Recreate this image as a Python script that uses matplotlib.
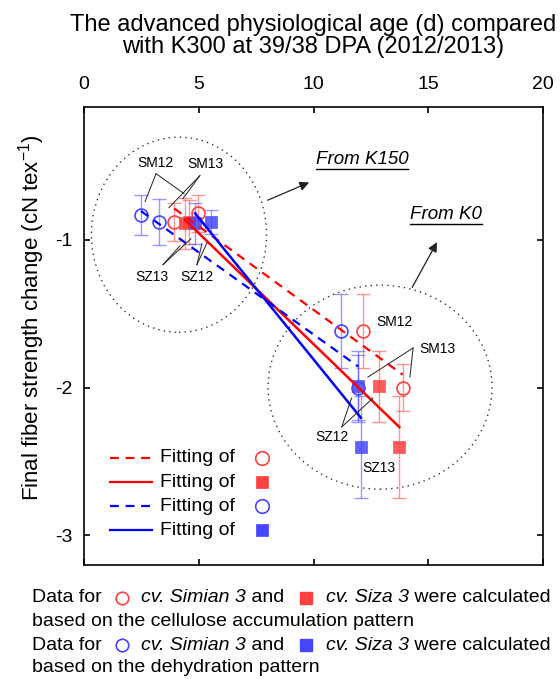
import numpy as np
import matplotlib
matplotlib.use("Agg")
import matplotlib.pyplot as plt
from matplotlib.lines import Line2D
from matplotlib.patches import Ellipse

plt.rcParams['font.family'] = ['Liberation Sans', 'DejaVu Sans']
plt.rcParams['mathtext.fontset'] = 'custom'
plt.rcParams['mathtext.rm'] = 'Liberation Sans'
plt.rcParams['axes.unicode_minus'] = False

# data
red_circle_x = [3.93, 4.95, 12.14, 13.89]
red_circle_y = [-0.88, -0.82, -1.62, -2.00]
red_circle_err = [0.13, 0.125, 0.25, 0.16]

red_square_x = [4.40, 4.57, 12.87, 13.74]
red_square_y = [-0.89, -0.88, -1.99, -2.40]
red_square_err = [0.17, 0.15, 0.24, 0.345]

blue_circle_x = [2.48, 3.27, 11.20, 11.95]
blue_circle_y = [-0.83, -0.88, -1.62, -2.00]
blue_circle_err = [0.136, 0.158, 0.25, 0.22]

blue_square_x = [4.84, 5.53, 11.95, 12.06]
blue_square_y = [-0.89, -0.88, -1.99, -2.40]
blue_square_err = [0.14, 0.08, 0.24, 0.345]

x_ticks = [0, 5, 10, 15, 20]
y_ticks = [-1, -2, -3]

RED = '#ff0000'
BLUE = '#0000ff'
RED_M = '#ff4040'
BLUE_M = '#4646ff'
MS_C = 9.3
MS_S = 9.0

W, H = 560, 679
fig = plt.figure(figsize=(W / 100, H / 100), dpi=100)
ax = fig.add_axes([84 / W, 1 - 565 / H, 459 / W, 458.3 / H])

groups = [
    (red_circle_x, red_circle_y, red_circle_err, RED, RED_M, 'o', '--'),
    (red_square_x, red_square_y, red_square_err, RED, RED_M, 's', '-'),
    (blue_circle_x, blue_circle_y, blue_circle_err, BLUE, BLUE_M, 'o', '--'),
    (blue_square_x, blue_square_y, blue_square_err, BLUE, BLUE_M, 's', '-'),
]

for gx, gy, ge, lc, mc, mk, ls in groups:
    ax.errorbar(gx, gy, yerr=ge, fmt='none', ecolor=mc, alpha=0.55,
                elinewidth=1.0, capsize=5, capthick=1.0, zorder=2)
    if mk == 'o':
        ax.plot(gx, gy, 'o', ms=MS_C, mfc='none', mec=mc, mew=1.2, zorder=3)
    else:
        ax.plot(gx, gy, 's', ms=MS_S, mfc=mc, mec=mc, mew=0.5, alpha=0.85, zorder=3)
    k, b = np.polyfit(gx, gy, 1)
    xs = np.array([min(gx), max(gx)])
    if ls == '--':
        ax.plot(xs, k * xs + b, color=lc, lw=1.6, dashes=(4, 3), zorder=4)
    else:
        ax.plot(xs, k * xs + b, color=lc, lw=1.8, zorder=4)

# dotted ellipses
ax.add_patch(Ellipse((4.14, -0.966), 7.63, 1.32, fill=False, ls=(0, (1, 3)),
                     lw=1.0, ec='#333333'))
ax.add_patch(Ellipse((12.9, -1.997), 9.76, 1.38, fill=False, ls=(0, (1, 3)),
                     lw=1.0, ec='#333333'))

# arrows
ax.annotate('', xy=(9.92, -0.605), xytext=(7.89, -0.74),
            arrowprops=dict(arrowstyle='-|>', color='#222222', lw=0.9,
                            mutation_scale=14))
ax.annotate('', xy=(15.44, -1.0), xytext=(14.24, -1.339),
            arrowprops=dict(arrowstyle='-|>', color='#222222', lw=0.9,
                            mutation_scale=14))

# point labels
labels = [
    ('SM12', 3.12, -0.478, (3.14, -0.553), [(2.66, -0.742), (4.36, -0.688)]),
    ('SM13', 5.27, -0.49, (5.05, -0.566), [(3.70, -0.783), (4.31, -0.722)]),
    ('SZ13', 2.96, -1.25, (3.44, -1.169), [(4.66, -0.993), (4.18, -1.041)]),
    ('SZ12', 4.92, -1.25, (4.92, -1.169), [(5.14, -1.027), (5.36, -1.02)]),
    ('SM12', 13.51, -1.556, None, []),
    ('SM13', 15.38, -1.739, (14.34, -1.732), [(12.37, -1.929), (14.20, -1.929)]),
    ('SZ12', 10.81, -2.336, (11.23, -2.266), [(11.66, -2.071), (12.59, -2.071)]),
    ('SZ13', 12.85, -2.546, None, []),
]
for txt, tx, ty, vtx, ends in labels:
    ax.text(tx, ty, txt, fontsize=10, ha='center', va='center', zorder=5)
    for ex, ey in ends:
        ax.plot([vtx[0], ex], [vtx[1], ey], color='#222222', lw=0.7, zorder=5)

# legend drawn by hand
legend_rows = [
    (RED, '--', 'o', 'none', RED_M),
    (RED, '-', 's', RED_M, RED_M),
    (BLUE, '--', 'o', 'none', BLUE_M),
    (BLUE, '-', 's', BLUE_M, BLUE_M),
]
for i, (lc, ls, mk, mfc, mec) in enumerate(legend_rows):
    yy = 0.2335 - i * 0.0524
    if ls == '--':
        ax.plot([0.0566, 0.148], [yy, yy], transform=ax.transAxes, color=lc,
                lw=1.6, dashes=(4, 3))
    else:
        ax.plot([0.0566, 0.148], [yy, yy], transform=ax.transAxes, color=lc, lw=1.6)
    ax.text(0.1656, yy, 'Fitting of', transform=ax.transAxes, fontsize=14,
            va='center', ha='left')
    ax.plot([0.388], [yy], mk, transform=ax.transAxes,
            ms=MS_C + 0.5 if mk == 'o' else MS_S - 0.5,
            mfc=mfc, mec=mec, mew=1.2 if mk == 'o' else 0.5)

ax.set_xlim(0, 20)
ax.set_ylim(-3.2, -0.1)
ax.set_xticks(x_ticks)
ax.set_yticks(y_ticks)
ax.xaxis.tick_top()
ax.tick_params(direction='in', top=True, bottom=True, left=True, right=True,
               labeltop=True, labelbottom=False, length=4.5, width=1.2,
               labelsize=14)
ax.tick_params(axis='x', pad=10)
ax.tick_params(axis='y', pad=8)
for sp in ax.spines.values():
    sp.set_linewidth(1.2)
ax.set_ylabel('Final fiber strength change (cN tex$^{-1}$)', fontsize=16)
ax.yaxis.set_label_coords(-0.08, 0.54)

fig.text(313.5 / W, 1 - 36 / H,
         'The advanced physiological age (d) compared\nwith K300 at 39/38 DPA (2012/2013)',
         ha='center', va='center', fontsize=17, linespacing=1.05)

renderer = fig.canvas.get_renderer()

# underlined italic notes
for txt, tx, ty in [('From K150', 12.11, -0.458), ('From K0', 15.77, -0.83)]:
    t = ax.text(tx, ty, txt, fontsize=13.5, style='italic', ha='center', va='center')
    bb = t.get_window_extent(renderer)
    inv = ax.transData.inverted()
    (x0, y0), (x1, _) = inv.transform([(bb.x0, bb.y0 - 1), (bb.x1, bb.y0 - 1)])
    ax.plot([x0, x1], [y0, y0], color='black', lw=1.0)


# caption below the chart
def caption_line(ypx, pieces):
    x = 32.0
    yf = 1 - ypx / H
    for kind, val in pieces:
        if kind == 'gap':
            x += val
        elif kind in ('circle', 'square'):
            color = RED_M if val == 'r' else BLUE_M
            if kind == 'circle':
                m = Line2D([x / W], [yf], marker='o', ms=9.0, mfc='none', mec=color,
                           mew=1.2, transform=fig.transFigure)
            else:
                m = Line2D([x / W], [yf], marker='s', ms=8.3, mfc=color, mec=color,
                           transform=fig.transFigure)
            fig.add_artist(m)
        else:
            st = 'italic' if kind == 'it' else 'normal'
            t = fig.text(x / W, yf, val, fontsize=14, style=st, ha='left', va='center')
            bb = t.get_window_extent(renderer)
            x = bb.x1


caption_line(598, [('tx', 'Data for'), ('gap', 20), ('circle', 'r'), ('gap', 19),
                   ('it', 'cv. Simian 3'), ('tx', ' and'), ('gap', 22), ('square', 'r'),
                   ('gap', 20), ('it', 'cv. Siza 3'), ('tx', ' were calculated')])
caption_line(621, [('tx', 'based on the cellulose accumulation pattern')])
caption_line(645, [('tx', 'Data for'), ('gap', 20), ('circle', 'b'), ('gap', 19),
                   ('it', 'cv. Simian 3'), ('tx', ' and'), ('gap', 22), ('square', 'b'),
                   ('gap', 20), ('it', 'cv. Siza 3'), ('tx', ' were calculated')])
caption_line(668, [('tx', 'based on the dehydration pattern')])

fig.savefig('out.png', dpi=100)
